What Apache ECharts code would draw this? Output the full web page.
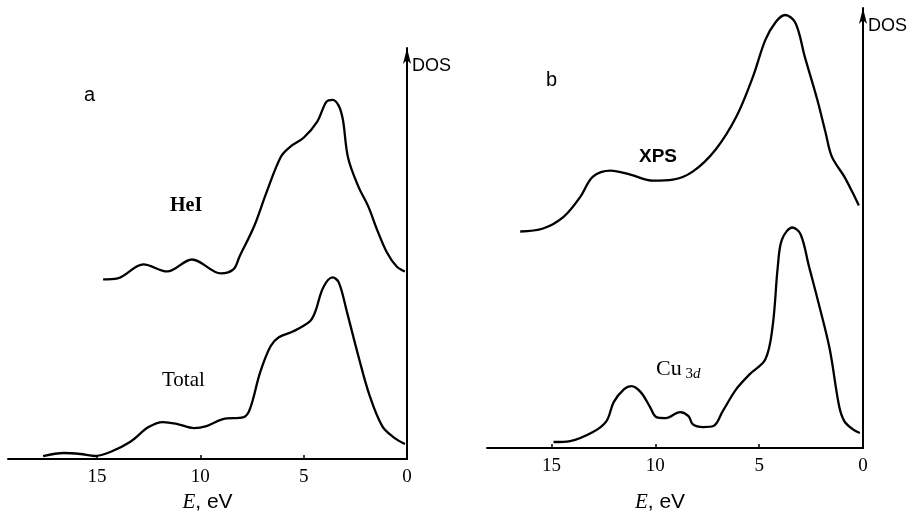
<!DOCTYPE html>
<html>
<head>
<meta charset="utf-8">
<script src="https://cdn.jsdelivr.net/npm/echarts@6/dist/echarts.min.js"></script>
<style>
html, body { margin: 0; padding: 0; background: #fff; }
#chart { width: 908px; height: 518px; }
</style>
</head>
<body>
<div id="chart"></div>
<script>
// panel a: E (eV) and DOS (arb. units)
var heiE = [14.7, 14.0, 12.75, 11.6, 10.4, 9.0, 8.4, 8.1, 7.4, 6.8, 6.1, 5.65, 5.0, 4.35, 3.9, 3.6, 3.3, 3.1, 2.85, 2.35, 1.87, 1.45, 0.97, 0.5, 0.1];
var heiDos = [18.0, 18.1, 19.5, 18.8, 20.0, 18.6, 19.0, 20.3, 23.3, 26.7, 30.3, 31.3, 32.2, 33.8, 35.8, 36.0, 35.4, 34.0, 30.2, 27.3, 25.3, 23.0, 20.7, 19.3, 18.8];
var totalE = [17.6, 16.6, 15.8, 15.1, 14.35, 13.4, 12.5, 11.8, 11.1, 10.3, 9.7, 8.9, 7.9, 7.6, 7.1, 6.6, 6.2, 5.5, 4.7, 4.45, 4.05, 3.6, 3.3, 2.9, 2.35, 1.8, 1.2, 0.66, 0.1];
var totalDos = [0.3, 0.6, 0.5, 0.3, 0.7, 1.7, 3.2, 3.7, 3.5, 3.1, 3.3, 4.0, 4.2, 5.0, 8.7, 11.3, 12.2, 12.8, 13.8, 14.7, 17.2, 18.2, 17.7, 14.7, 10.3, 6.3, 3.3, 2.2, 1.5];
// panel b
var xpsE = [16.5, 15.4, 14.4, 13.6, 13.0, 12.15, 11.2, 10.1, 9.15, 8.2, 7.1, 6.1, 5.3, 4.7, 4.2, 3.75, 3.25, 2.8, 2.2, 1.8, 1.5, 0.9, 0.5, 0.2];
var xpsDos = [21.7, 22.0, 23.2, 25.2, 27.2, 27.8, 27.4, 26.8, 26.9, 27.7, 29.9, 33.2, 37.2, 40.9, 42.7, 43.4, 42.6, 39.2, 34.9, 31.6, 29.2, 27.2, 25.6, 24.3];
var cuE = [14.9, 14.1, 13.0, 12.35, 12.0, 11.5, 11.15, 10.7, 10.25, 9.95, 9.5, 8.8, 8.4, 8.2, 7.7, 7.2, 6.75, 6.1, 5.45, 4.7, 4.35, 4.1, 3.9, 3.4, 3.0, 2.6, 2.1, 1.6, 1.15, 0.9, 0.5, 0.15];
var cuDos = [0.6, 0.7, 1.6, 2.7, 4.6, 5.9, 6.2, 5.6, 4.1, 3.1, 3.0, 3.6, 3.2, 2.4, 2.1, 2.2, 3.7, 5.9, 7.4, 8.9, 12.2, 18.2, 20.9, 22.1, 21.4, 18.2, 14.2, 9.9, 4.2, 2.7, 1.9, 1.5];
var xTicks = [0, 5, 10, 15];

function pairs(xs, ys) {
	var out = [];
	for(var i = 0; i < xs.length; i++) out.push([xs[i], ys[i]]);
	return out;
}

var myChart = echarts.init(document.getElementById('chart'));

function xAxisOf(idx, max, gap, pad) {
	return {
		type: 'value', gridIndex: idx, min: 0, max: max, interval: 5, inverse: true,
		axisLine: { onZero: false, lineStyle: { color: '#000', width: 2 } },
		axisTick: { inside: true, length: 4, lineStyle: { color: '#000', width: 1.5 } },
		axisLabel: {
			color: '#000', fontFamily: 'Liberation Serif', fontSize: 19, margin: 9,
			showMaxLabel: false,
			formatter: function(v) { return xTicks.indexOf(v) >= 0 ? String(v) : ''; }
		},
		splitLine: { show: false },
		name: '{i|E}, eV', nameLocation: 'middle', nameGap: gap,
		nameTextStyle: {
			color: '#000', fontFamily: 'Liberation Sans', fontSize: 21, padding: pad,
			rich: { i: { fontFamily: 'Liberation Serif', fontStyle: 'italic', fontSize: 21, color: '#000' } }
		}
	};
}

function yAxisOf(idx, max) {
	return {
		type: 'value', gridIndex: idx, min: 0, max: max, position: 'right',
		axisLine: { show: true, symbol: ['none', 'arrow'], symbolSize: [6, 16], lineStyle: { color: '#000', width: 2 } },
		axisTick: { show: false }, axisLabel: { show: false }, splitLine: { show: false },
		name: 'DOS', nameLocation: 'end', nameGap: -18,
		nameTextStyle: { color: '#000', fontFamily: 'Liberation Sans', fontSize: 18, align: 'left', verticalAlign: 'middle', padding: [0, 0, 0, 5] }
	};
}

function line(name, idx, data) {
	return {
		name: name, type: 'line', xAxisIndex: idx, yAxisIndex: idx, data: data,
		smooth: 0.35, showSymbol: false, silent: true,
		lineStyle: { color: '#000', width: 2.3 }
	};
}

var option = {
	backgroundColor: '#fff',
	animation: false,
	grid: [
		{ left: 8, right: 501, top: 48, bottom: 58 },
		{ left: 487, right: 43, top: 8, bottom: 69 }
	],
	xAxis: [xAxisOf(0, 19.3, 33, [0, 0, 0, 0]), xAxisOf(1, 18.1, 44, [0, 30, 0, 0])],
	yAxis: [yAxisOf(0, 41.2), yAxisOf(1, 44.1)],
	series: [
		line('HeI', 0, pairs(heiE, heiDos)),
		line('Total', 0, pairs(totalE, totalDos)),
		line('XPS', 1, pairs(xpsE, xpsDos)),
		line('Cu3d', 1, pairs(cuE, cuDos))
	],
	graphic: [
		{ type: 'text', left: 84, top: 85, style: { text: 'a', font: '20px "Liberation Sans"', fill: '#000' } },
		{ type: 'text', left: 546, top: 70, style: { text: 'b', font: '20px "Liberation Sans"', fill: '#000' } },
		{ type: 'text', left: 170, top: 196, style: { text: 'HeI', font: 'bold 20px "Liberation Serif"', fill: '#000' } },
		{ type: 'text', left: 162, top: 370, style: { text: 'Total', font: '21px "Liberation Serif"', fill: '#000' } },
		{ type: 'text', left: 639, top: 147, style: { text: 'XPS', font: 'bold 19px "Liberation Sans"', fill: '#000' } },
		{ type: 'text', left: 656, top: 358, style: {
			text: '{c|Cu}{s| 3}{d|d}',
			rich: {
				c: { fontFamily: 'Liberation Serif', fontSize: 22, fill: '#000' },
				s: { fontFamily: 'Liberation Serif', fontSize: 15, fill: '#000', padding: [10, 0, 0, 0] },
				d: { fontFamily: 'Liberation Serif', fontStyle: 'italic', fontSize: 15, fill: '#000', padding: [10, 0, 0, 0] }
			}
		} }
	]
};
myChart.setOption(option);
</script>
</body>
</html>
